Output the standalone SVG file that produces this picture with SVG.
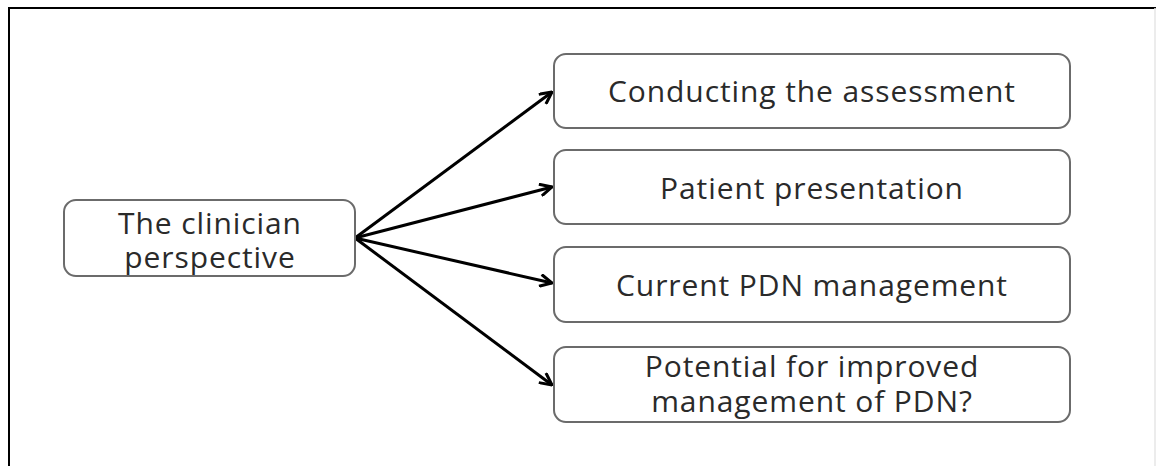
<svg xmlns="http://www.w3.org/2000/svg" width="1156" height="466" viewBox="0 0 1156 466">
  <defs>
    <style>
      .box { fill: #ffffff; stroke: #6b6b6b; stroke-width: 2; }
      .label { font-family: "Open Sans", "DejaVu Sans", sans-serif; font-size: 30px; letter-spacing: 0.9px; fill: #2a2a2a; text-anchor: middle; }
      .link { stroke: #000000; stroke-width: 3; fill: none; marker-end: url(#head); }
    </style>
    <marker id="head" markerWidth="14" markerHeight="14" refX="13" refY="7" orient="auto" markerUnits="userSpaceOnUse" viewBox="0 0 14 14">
      <path d="M1,1 L13,7 L1,13" fill="none" stroke="#000" stroke-width="3" stroke-linejoin="miter"/>
    </marker>
  </defs>
  <rect width="1156" height="466" fill="#ffffff"/>
  <!-- outer frame: dark top and left edges, faint right edge -->
  <path d="M9,466 V8 H1156" fill="none" stroke="#000" stroke-width="2"/>
  <line x1="1155" y1="8" x2="1155" y2="466" stroke="#e6e6e6" stroke-width="1.5"/>

  <g id="connectors">
    <line class="link" x1="355" y1="238" x2="552" y2="92"/>
    <line class="link" x1="355" y1="238" x2="552" y2="187"/>
    <line class="link" x1="355" y1="238" x2="552" y2="283"/>
    <line class="link" x1="355" y1="238" x2="552" y2="385"/>
  </g>

  <g id="clinician">
    <rect class="box" x="64" y="200" width="291" height="76" rx="12"/>
    <text class="label" x="210" y="234">The clinician</text>
    <text class="label" x="210" y="268">perspective</text>
  </g>
  <g id="assessment">
    <rect class="box" x="554" y="54" width="516" height="74" rx="12"/>
    <text class="label" x="812" y="102">Conducting the assessment</text>
  </g>
  <g id="presentation">
    <rect class="box" x="554" y="150" width="516" height="74" rx="12"/>
    <text class="label" x="812" y="199">Patient presentation</text>
  </g>
  <g id="current">
    <rect class="box" x="554" y="247" width="516" height="75" rx="12"/>
    <text class="label" x="812" y="296">Current PDN management</text>
  </g>
  <g id="potential">
    <rect class="box" x="554" y="347" width="516" height="75" rx="12"/>
    <text class="label" x="812" y="377">Potential for improved</text>
    <text class="label" x="812" y="412">management of PDN?</text>
  </g>
</svg>
